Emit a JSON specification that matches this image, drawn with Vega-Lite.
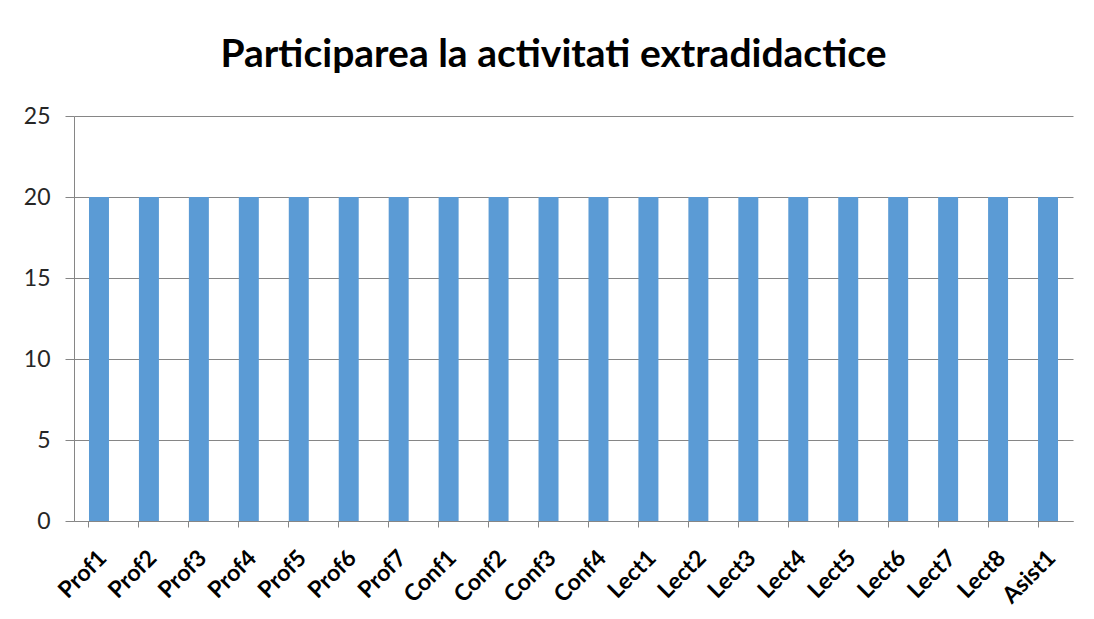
{
  "$schema": "https://vega.github.io/schema/vega-lite/v6.json",
  "width": 999,
  "height": 405,
  "autosize": {"type": "none"},
  "padding": {"left": 74, "top": 116, "right": 21, "bottom": 98},
  "background": "white",
  "title": {
    "text": "Participarea la activitati extradidactice",
    "font": "Lato",
    "fontSize": 39,
    "fontWeight": "bold",
    "color": "#000000",
    "anchor": "middle",
    "dx": -20,
    "offset": 30
  },
  "data": {
    "values": [
      {"cat": "Prof1", "val": 20}, {"cat": "Prof2", "val": 20}, {"cat": "Prof3", "val": 20},
      {"cat": "Prof4", "val": 20}, {"cat": "Prof5", "val": 20}, {"cat": "Prof6", "val": 20},
      {"cat": "Prof7", "val": 20}, {"cat": "Conf1", "val": 20}, {"cat": "Conf2", "val": 20},
      {"cat": "Conf3", "val": 20}, {"cat": "Conf4", "val": 20}, {"cat": "Lect1", "val": 20},
      {"cat": "Lect2", "val": 20}, {"cat": "Lect3", "val": 20}, {"cat": "Lect4", "val": 20},
      {"cat": "Lect5", "val": 20}, {"cat": "Lect6", "val": 20}, {"cat": "Lect7", "val": 20},
      {"cat": "Lect8", "val": 20}, {"cat": "Asist1", "val": 20}
    ]
  },
  "mark": {"type": "bar", "color": "#5B9BD5"},
  "encoding": {
    "x": {
      "field": "cat",
      "type": "nominal",
      "sort": null,
      "title": null,
      "scale": {"paddingInner": 0.6, "paddingOuter": 0.3},
      "axis": {
        "bandPosition": 0,
        "labelOffset": 4,
        "labelAngle": -45,
        "labelAlign": "right",
        "labelBaseline": "middle",
        "labelFont": "Lato",
        "labelFontSize": 23,
        "labelFontWeight": "bold",
        "labelColor": "#000000",
        "labelPadding": 27,
        "tickSize": 6,
        "tickColor": "#868686",
        "domainColor": "#868686",
        "grid": false
      }
    },
    "y": {
      "field": "val",
      "type": "quantitative",
      "title": null,
      "scale": {"domain": [0, 25], "nice": false},
      "axis": {
        "values": [0, 5, 10, 15, 20, 25],
        "labelFont": "Lato",
        "labelFontSize": 23,
        "labelColor": "#262626",
        "labelPadding": 15,
        "tickSize": 9,
        "tickColor": "#868686",
        "domainColor": "#868686",
        "gridColor": "#868686",
        "gridOpacity": 1
      }
    }
  },
  "config": {"view": {"stroke": null}}
}
